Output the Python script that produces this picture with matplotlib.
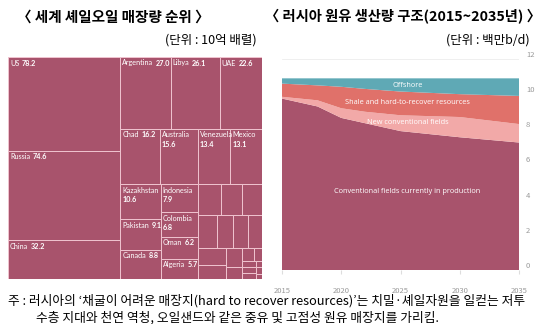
import matplotlib
matplotlib.use('Agg')
import matplotlib.pyplot as plt
from matplotlib.patches import Rectangle

plt.rcParams['font.family'] = ['Noto Sans CJK KR', 'DejaVu Sans']

# left: shale oil reserves (billion barrels)
countries = ['US', 'Russia', 'China', 'Argentina', 'Libya', 'UAE', 'Chad',
             'Australia', 'Venezuela', 'Mexico', 'Kazakhstan', 'Pakistan',
             'Canada', 'Indonesia', 'Colombia', 'Oman', 'Algeria',
             'Brazil', 'Turkey', 'France', 'Egypt', 'India', 'Paraguay',
             'Mongolia', 'Poland', 'Netherlands', 'Chile', 'Tunisia',
             'Ukraine', 'UK', 'Germany', 'Bolivia', 'Uruguay', 'Romania',
             'Lithuania', 'Bulgaria']
reserves = [78.2, 74.6, 32.2, 27.0, 26.1, 22.6, 16.2,
            15.6, 13.4, 13.1, 10.6, 9.1,
            8.8, 7.9, 6.8, 6.2, 5.7,
            5.3, 4.7, 4.7, 4.6, 3.8, 3.7,
            3.4, 3.3, 2.9, 2.3, 1.5,
            1.1, 0.7, 0.7, 0.6, 0.6, 0.3,
            0.3, 0.2]

# right: Russian crude output structure (million b/d)
years = [2015, 2018, 2020, 2022, 2025, 2030, 2035]
conventional = [9.75, 9.3, 8.65, 8.35, 7.9, 7.55, 7.25]
new_fields = [0.1, 0.35, 0.55, 0.65, 0.9, 1.15, 1.05]
shale = [0.75, 0.85, 1.22, 1.3, 1.35, 1.3, 1.6]
offshore = [0.3, 0.4, 0.48, 0.6, 0.75, 0.9, 1.0]
layer_names = ['Conventional fields currently in production',
               'New conventional fields',
               'Shale and hard-to-recover resources', 'Offshore']
year_ticks = [2015, 2020, 2025, 2030, 2035]
y_ticks = [0, 2, 4, 6, 8, 10, 12]

TREE = '#A8536C'
LAYER_COLORS = ['#A8536C', '#F2A9A8', '#E0716A', '#5FA9B5']


def squarify(values, x0, y0, x1, y1, ratio=(1 + 5 ** 0.5) / 2):
    # d3-style squarified treemap
    rects = []
    value = sum(values)
    i0 = i1 = 0
    n = len(values)
    while i0 < n:
        dx, dy = x1 - x0, y1 - y0
        sum_v = values[i1]
        i1 += 1
        min_v = max_v = sum_v
        alpha = max(dy / dx, dx / dy) / (value * ratio)
        beta = sum_v * sum_v * alpha
        min_ratio = max(max_v / beta, beta / min_v)
        while i1 < n:
            v = values[i1]
            s = sum_v + v
            mn, mx = min(min_v, v), max(max_v, v)
            beta = s * s * alpha
            new_ratio = max(mx / beta, beta / mn)
            if new_ratio > min_ratio:
                break
            sum_v, min_v, max_v, min_ratio = s, mn, mx, new_ratio
            i1 += 1
        row = values[i0:i1]
        if dx < dy:
            h = dy * sum_v / value
            x = x0
            for v in row:
                w = dx * v / sum_v
                rects.append((x, y0, w, h))
                x += w
            y0 += h
        else:
            w = dx * sum_v / value
            y = y0
            for v in row:
                h = dy * v / sum_v
                rects.append((x0, y, w, h))
                y += h
            x0 += w
        value -= sum_v
        i0 = i1
    return rects


fig = plt.figure(figsize=(5.4, 3.24), dpi=100)
renderer = fig.canvas.get_renderer()

# ---- treemap
ax1 = fig.add_axes([8 / 540, 1 - 279 / 324, 254 / 540, 222 / 324])
bb = ax1.get_window_extent(renderer)
W, H = bb.width, bb.height
ax1.set_xlim(0, W)
ax1.set_ylim(H, 0)
ax1.axis('off')

rects = squarify(reserves, 0, 0, W, H)
for (x, y, w, h), name, val in zip(rects, countries, reserves):
    ax1.add_patch(Rectangle((x, y), w, h, facecolor=TREE,
                            edgecolor='#F0C3CF', linewidth=0.7))
    if val < 5.5:
        continue
    t = ax1.text(x + 2, y + 2.5, name, color='white', fontsize=5.2,
                 family='Lato', va='top', ha='left')
    nw = t.get_window_extent(renderer).width
    sval = '%.1f' % val
    tv = ax1.text(0, 0, sval, color='white', fontsize=5.2, family='Lato',
                  fontweight='bold', va='top', ha='left')
    vw = tv.get_window_extent(renderer).width
    if 2 + nw + 2.5 + vw <= w + 2:
        tv.set_position((x + 2 + nw + 2.5, y + 2.5))
    else:
        tv.set_position((x + 2, y + 12))

# ---- stacked area
ax2 = fig.add_axes([282 / 540, 1 - 270 / 324, 237 / 540, 211 / 324])
layers = [conventional, new_fields, shale, offshore]
ax2.stackplot(years, *layers, colors=LAYER_COLORS, linewidth=0, zorder=2)
ax2.set_xlim(2015, 2035)
ax2.set_ylim(0, 12)
ax2.set_xticks(year_ticks)
ax2.set_yticks(y_ticks)
ax2.yaxis.tick_right()
ax2.grid(axis='y', color='#EDEDED', linewidth=0.6, zorder=0)
ax2.tick_params(axis='y', length=0, pad=5, labelsize=5.5, labelcolor='#9A9A9A')
ax2.tick_params(axis='x', length=3, color='#DDDDDD', pad=9, labelsize=5.5,
                labelcolor='#9A9A9A')
for lab in ax2.get_yticklabels():
    lab.set_va('bottom')
for s in ax2.spines.values():
    s.set_visible(False)

label_x = 2025.6
fracs = [0.57, 0.55, 0.55, 0.5]
base = [0.0] * len(years)
for layer, name, f in zip(layers, layer_names, fracs):
    # interpolate base and thickness at label_x
    for i in range(len(years) - 1):
        if years[i] <= label_x <= years[i + 1]:
            r = (label_x - years[i]) / (years[i + 1] - years[i])
            b0 = base[i] + r * (base[i + 1] - base[i])
            th = layer[i] + r * (layer[i + 1] - layer[i])
    ax2.text(label_x, b0 + f * th, name, color='white', fontsize=5.3,
             family='Open Sans', ha='center', va='center', zorder=3)
    base = [b + v for b, v in zip(base, layer)]

# ---- titles and notes
fig.text(113 / 540, 1 - 17 / 324, '〈 세계 셰일오일 매장량 순위 〉', fontsize=10.5,
         fontweight='bold', ha='center', va='center')
fig.text(257 / 540, 1 - 40 / 324, '(단위 : 10억 배렬)', fontsize=9,
         ha='right', va='center')
fig.text(403 / 540, 1 - 17 / 324, '〈 러시아 원유 생산량 구조(2015~2035년) 〉',
         fontsize=10.3, fontweight='bold', ha='center', va='center')
fig.text(530 / 540, 1 - 40 / 324, '(단위 : 백만b/d)', fontsize=9,
         ha='right', va='center')
fig.text(8 / 540, 1 - 301 / 324,
         '주 : 러시아의 ‘채굴이 어려운 매장지(hard to recover resources)’는 '
         '치밀·셰일자원을 일컫는 저투', fontsize=9.2, ha='left', va='center')
fig.text(36 / 540, 1 - 318 / 324,
         '수층 지대와 천연 역청, 오일샌드와 같은 중유 및 고점성 원유 매장지를 가리킴.',
         fontsize=9.2, ha='left', va='center')

fig.savefig('out.png', dpi=100)
